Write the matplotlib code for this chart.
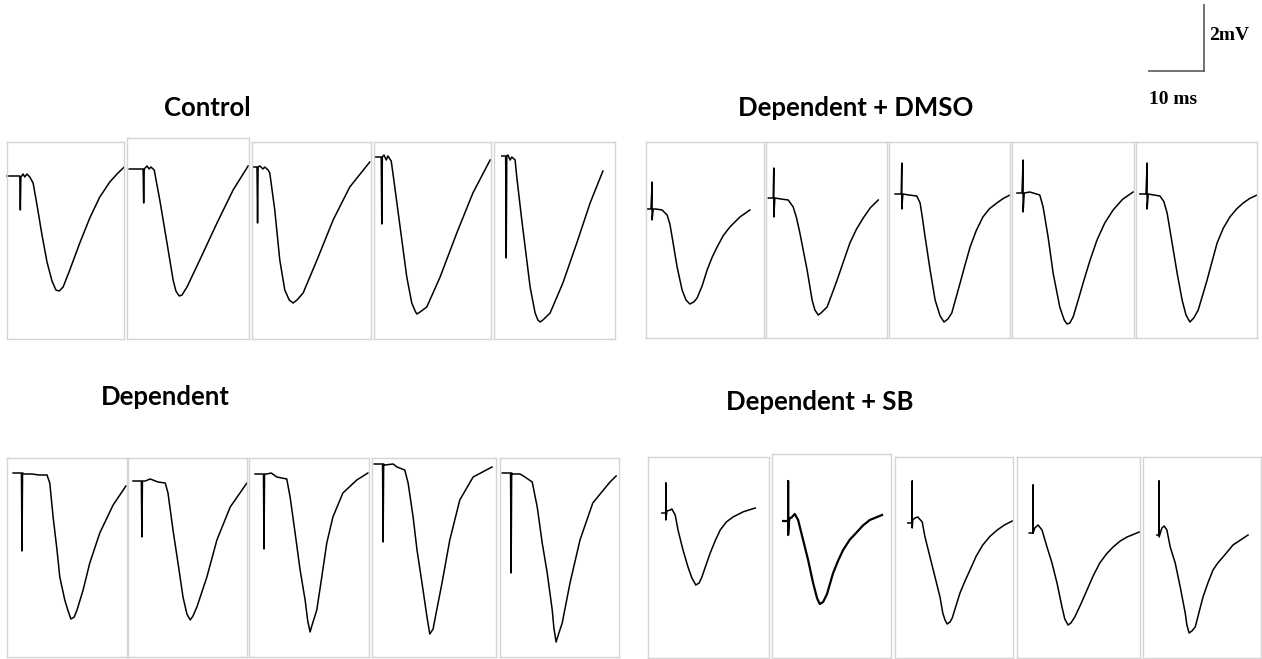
import matplotlib
matplotlib.use("Agg")
import matplotlib.pyplot as plt

# group titles
titles = ["Control", "Dependent + DMSO", "Dependent", "Dependent + SB"]

# field potential traces: time (ms) and voltage (mV, relative to baseline)
control_t = [
    [0, 2.3, 2.4, 2.5, 2.9, 3.2, 3.6, 4.1, 4.7, 5.4, 6.3, 7.2, 8.1, 8.8, 9.4, 10.1, 11.3, 13.1, 14.9, 16.7, 18.5, 19.8, 21.1],
    [0.4, 2.9, 3.0, 3.1, 3.6, 4.0, 4.3, 4.7, 4.9, 5.9, 7.2, 8.3, 8.8, 9.4, 9.9, 10.8, 13.1, 16.2, 19.1, 21.8],
    [0.2, 0.9, 1.0, 1.1, 1.4, 2.0, 2.3, 2.9, 3.2, 4.1, 5.0, 5.9, 6.7, 7.4, 8.1, 9.2, 11.7, 14.6, 17.6, 21.2],
    [0.2, 1.3, 1.4, 1.5, 1.8, 2.2, 2.5, 3.1, 3.4, 4.7, 5.9, 6.8, 7.4, 7.7, 8.3, 9.5, 11.9, 14.9, 17.8, 20.9],
    [1.4, 2.1, 2.2, 2.3, 2.5, 2.9, 3.2, 3.8, 4.1, 5.0, 6.5, 7.4, 7.9, 8.3, 8.8, 10.1, 12.4, 14.9, 17.3, 19.6],
]
control_v = [
    [0, 0, -1.02, -0.03, 0.06, -0.03, 0.06, -0.03, -0.21, -0.87, -1.77, -2.58, -3.15, -3.42, -3.45, -3.33, -2.82, -2.01, -1.26, -0.63, -0.18, 0.06, 0.27],
    [0, 0, -1.02, 0, 0.09, 0, 0.06, 0, -0.03, -0.93, -2.22, -3.33, -3.66, -3.81, -3.78, -3.54, -2.73, -1.62, -0.63, 0.09],
    [0, 0, -1.68, 0, 0.03, -0.06, 0, -0.09, -0.18, -1.29, -2.79, -3.69, -3.99, -4.08, -3.99, -3.78, -2.79, -1.59, -0.6, 0.15],
    [0, 0, -2.01, 0, 0.06, -0.09, 0.03, -0.12, -0.48, -2.1, -3.6, -4.38, -4.62, -4.71, -4.65, -4.5, -3.6, -2.28, -1.08, -0.09],
    [0, 0, -3.06, 0, 0.03, -0.12, -0.03, -0.12, -0.63, -1.92, -3.93, -4.71, -4.92, -4.98, -4.92, -4.71, -3.81, -2.61, -1.41, -0.45],
]

dmso_t = [
    [0.2, 0.9, 1.1, 1.1, 1.3, 1.8, 2.9, 3.8, 4.3, 4.7, 5.6, 6.5, 7.2, 7.9, 8.6, 9.2, 10.1, 11.0, 11.9, 12.8, 13.9, 15.1, 16.9, 18.7],
    [0.4, 1.3, 1.4, 1.4, 1.6, 2.7, 4.0, 4.9, 5.5, 6.1, 7.4, 8.3, 8.8, 9.4, 9.9, 11.0, 11.9, 12.8, 14.0, 15.1, 16.3, 17.5, 18.8, 20.2],
    [1.1, 2.2, 2.3, 2.3, 2.5, 3.6, 5.0, 5.6, 6.0, 6.5, 7.4, 8.3, 9.2, 9.9, 10.6, 11.3, 12.8, 13.7, 14.6, 15.7, 16.9, 18.1, 19.4, 20.6, 21.8],
    [0.9, 1.8, 2.0, 2.0, 2.2, 3.2, 5.0, 5.6, 6.0, 6.5, 7.4, 8.6, 9.4, 9.9, 10.4, 11.0, 11.9, 12.8, 14.0, 15.3, 16.7, 18.2, 19.9, 21.8],
    [0.7, 1.8, 2.0, 2.0, 2.2, 3.2, 4.3, 5.0, 5.6, 6.5, 7.4, 8.3, 9.0, 9.7, 10.4, 11.2, 12.8, 13.7, 14.6, 15.7, 16.9, 18.1, 19.3, 20.5, 21.8],
]
dmso_v = [
    [0, 0, 0.81, -0.33, 0, 0, -0.03, -0.18, -0.45, -0.84, -1.74, -2.43, -2.73, -2.85, -2.79, -2.67, -2.31, -1.83, -1.45, -1.14, -0.8, -0.54, -0.24, -0.03],
    [0, 0, 0.9, -0.57, 0, -0.03, -0.06, -0.27, -0.6, -1.05, -2.16, -3.06, -3.36, -3.51, -3.45, -3.27, -2.87, -2.46, -1.88, -1.35, -0.93, -0.6, -0.29, -0.06],
    [0, 0, 0.93, -0.45, 0, -0.03, -0.06, -0.27, -0.7, -1.29, -2.28, -3.18, -3.66, -3.84, -3.75, -3.57, -2.67, -2.12, -1.59, -1.1, -0.69, -0.44, -0.27, -0.13, -0.03],
    [0, 0, 0.99, -0.57, 0, 0.03, -0.06, -0.42, -0.82, -1.32, -2.4, -3.42, -3.81, -3.93, -3.9, -3.72, -3.22, -2.7, -2.04, -1.41, -0.9, -0.51, -0.19, 0.03],
    [0, 0, 0.93, -0.45, 0, -0.03, -0.06, -0.22, -0.57, -1.47, -2.37, -3.18, -3.63, -3.84, -3.72, -3.48, -2.58, -2.02, -1.47, -1.03, -0.69, -0.45, -0.27, -0.13, -0.03],
]

dep_t = [
    [1.1, 2.6, 2.7, 2.8, 3.1, 4.5, 5.8, 7.2, 7.7, 8.3, 9.0, 9.5, 10.4, 11.0, 11.5, 12.1, 12.6, 13.7, 14.9, 16.7, 19.1, 21.4],
    [0.9, 2.4, 2.5, 2.6, 3.1, 4.0, 5.4, 6.7, 7.2, 8.1, 9.0, 9.9, 10.6, 11.2, 11.7, 12.4, 14.2, 16.0, 18.4, 21.4],
    [1.1, 2.6, 2.7, 2.8, 3.2, 4.0, 5.0, 6.8, 7.4, 8.3, 9.2, 10.1, 10.6, 11.0, 11.3, 12.2, 13.1, 14.0, 15.1, 16.9, 19.4, 21.4],
    [0.4, 1.9, 2.0, 2.1, 2.3, 3.8, 4.5, 5.9, 6.5, 7.4, 8.1, 9.0, 9.9, 10.4, 11.0, 11.3, 12.6, 14.0, 15.8, 18.2, 21.6],
    [0.4, 1.9, 2.0, 2.1, 2.3, 3.6, 4.5, 5.8, 6.7, 7.6, 8.5, 9.4, 9.7, 10.1, 10.6, 11.2, 12.6, 14.4, 16.7, 19.8, 20.9],
]
dep_v = [
    [0, 0, -2.34, 0, -0.03, -0.03, -0.06, -0.06, -0.3, -1.32, -2.31, -3.12, -3.81, -4.14, -4.38, -4.32, -4.11, -3.51, -2.7, -1.8, -0.96, -0.39],
    [0, 0, -1.68, 0, 0, 0.06, -0.03, -0.06, -0.36, -1.47, -2.46, -3.48, -3.99, -4.17, -4.05, -3.78, -2.88, -1.77, -0.78, -0.06],
    [0, 0, -2.25, 0, 0, 0.03, -0.09, -0.15, -0.69, -1.77, -2.88, -3.78, -4.44, -4.74, -4.56, -4.08, -3.09, -2.07, -1.29, -0.57, -0.18, 0.03],
    [0, 0, -2.34, 0, -0.03, 0, -0.09, -0.18, -0.57, -1.59, -2.58, -3.57, -4.59, -5.1, -4.95, -4.68, -3.57, -2.28, -1.08, -0.39, -0.09],
    [0, 0, -3.0, 0, -0.03, -0.03, -0.12, -0.27, -1.02, -2.1, -3.0, -4.11, -4.65, -5.07, -4.8, -4.5, -3.3, -2.01, -0.9, -0.27, -0.09],
]

sb_t = [
    [2.5, 3.2, 3.2, 3.2, 3.4, 4.0, 4.3, 4.9, 5.4, 6.3, 7.2, 7.9, 8.6, 9.2, 9.7, 10.4, 11.2, 12.1, 13.0, 14.1, 15.3, 17.2, 19.3],
    [2.0, 2.9, 2.9, 2.9, 3.1, 3.6, 4.1, 4.7, 5.6, 6.5, 7.4, 8.1, 8.6, 9.2, 9.9, 11.0, 11.9, 12.8, 14.0, 15.3, 16.4, 17.6, 19.8],
    [2.3, 3.1, 3.1, 3.1, 3.2, 3.6, 4.1, 4.9, 5.4, 6.3, 7.2, 8.1, 8.6, 9.0, 9.4, 9.9, 10.3, 11.7, 12.6, 13.5, 14.6, 15.8, 17.1, 18.4, 19.7, 21.1],
    [2.2, 2.9, 2.9, 2.9, 3.2, 3.8, 4.5, 5.4, 6.3, 7.2, 8.1, 8.6, 9.2, 9.7, 10.4, 11.5, 12.6, 13.7, 14.9, 16.1, 17.3, 18.5, 19.8, 22.0],
    [2.5, 2.9, 2.9, 2.9, 3.4, 3.8, 4.3, 4.9, 5.8, 6.7, 7.6, 7.9, 8.3, 8.8, 9.4, 10.8, 11.7, 12.6, 13.5, 14.4, 16.2, 18.9],
]
sb_v = [
    [0, 0, 0.9, -0.21, 0.06, 0.09, 0.12, -0.06, -0.51, -1.11, -1.62, -1.95, -2.16, -2.1, -1.92, -1.58, -1.2, -0.83, -0.51, -0.27, -0.12, 0.04, 0.15],
    [0, 0, 1.2, -0.42, 0.06, 0.12, 0.21, 0.03, -0.57, -1.17, -1.86, -2.31, -2.49, -2.43, -2.19, -1.56, -1.19, -0.87, -0.56, -0.33, -0.13, 0.03, 0.18],
    [0, 0, 1.26, -0.15, 0.09, 0.15, 0.18, 0.03, -0.42, -1.02, -1.62, -2.22, -2.7, -2.91, -3.03, -2.97, -2.85, -2.1, -1.74, -1.41, -1.0, -0.66, -0.4, -0.21, -0.06, 0.06],
    [0, 0, 1.44, 0, 0.15, 0.24, 0.09, -0.42, -0.9, -1.5, -2.22, -2.58, -2.76, -2.7, -2.52, -2.13, -1.71, -1.29, -0.9, -0.63, -0.42, -0.25, -0.12, 0.03],
    [0, 0, 1.62, -0.06, 0.21, 0.27, 0.15, -0.36, -0.84, -1.56, -2.34, -2.7, -2.94, -2.88, -2.76, -1.86, -1.43, -1.05, -0.83, -0.66, -0.3, 0],
]

# scale bar values
bar_ms = 10
bar_mv = 2

# layout: panel boxes in pixels (left, right, top, bottom, baseline y)
W, H = 1262, 659
MS_PER_PX = 0.18
MV_PER_PX = 0.03

control_boxes = [(7, 124, 142, 339, 176), (127, 249, 138, 339, 169), (252, 371, 142, 339, 167),
                 (374, 491, 142, 339, 157), (494, 615, 142, 339, 156)]
dmso_boxes = [(646, 764, 142, 338, 209), (766, 887, 142, 338, 198), (889, 1010, 142, 338, 194),
              (1012, 1134, 142, 338, 193), (1136, 1257, 142, 338, 194)]
dep_boxes = [(7, 127, 458, 657, 473), (128, 247, 458, 657, 481), (249, 369, 458, 657, 474),
             (372, 496, 458, 657, 464), (500, 619, 458, 657, 473)]
sb_boxes = [(648, 769, 457, 658, 513), (772, 891, 454, 658, 521), (895, 1013, 457, 658, 523),
            (1017, 1140, 457, 658, 533), (1143, 1261, 457, 658, 535)]

title_pos = [(207, 108), (856, 108), (165, 397), (820, 402)]

fig = plt.figure(figsize=(W / 100, H / 100), dpi=100)
fig.patch.set_facecolor("white")

groups = [
    (control_t, control_v, control_boxes),
    (dmso_t, dmso_v, dmso_boxes),
    (dep_t, dep_v, dep_boxes),
    (sb_t, sb_v, sb_boxes),
]

for g, (ts, vs, boxes) in enumerate(groups):
    for i, (t, v) in enumerate(zip(ts, vs)):
        left, right, top, bottom, base = boxes[i]
        ax = fig.add_axes([left / W, 1 - bottom / H, (right - left) / W, (bottom - top) / H])
        lw = 1.6 if (g == 3 and i == 1) else 1.1
        ax.plot(t, v, color="black", linewidth=lw, solid_joinstyle="round", clip_on=False)
        ax.set_xlim(0, (right - left) * MS_PER_PX)
        ax.set_ylim(-(bottom - base) * MV_PER_PX, (base - top) * MV_PER_PX)
        ax.set_xticks([])
        ax.set_yticks([])
        for s in ax.spines.values():
            s.set_color("#d4d4d4")
            s.set_linewidth(1.0)

for name, (x, y) in zip(titles, title_pos):
    fig.text(x / W, 1 - y / H, name, ha="center", va="center", fontsize=18.5,
             fontweight="bold", family="Lato")

# scale bar
bar_x, bar_y = 1204, 71
fig.add_artist(plt.Line2D([bar_x / W, bar_x / W], [1 - 5 / H, 1 - bar_y / H], color="#666666", lw=1.3))
fig.add_artist(plt.Line2D([1149 / W, bar_x / W], [1 - bar_y / H, 1 - bar_y / H], color="#666666", lw=1.3))
fig.text(1209 / W, 1 - 35 / H, f"{bar_mv}mV", ha="left", va="center", fontsize=14,
         fontweight="bold", family="Liberation Serif")
fig.text(1149 / W, 1 - 99 / H, f"{bar_ms} ms", ha="left", va="center", fontsize=14,
         fontweight="bold", family="Liberation Serif")

fig.savefig("out.png", dpi=100, facecolor="white")
